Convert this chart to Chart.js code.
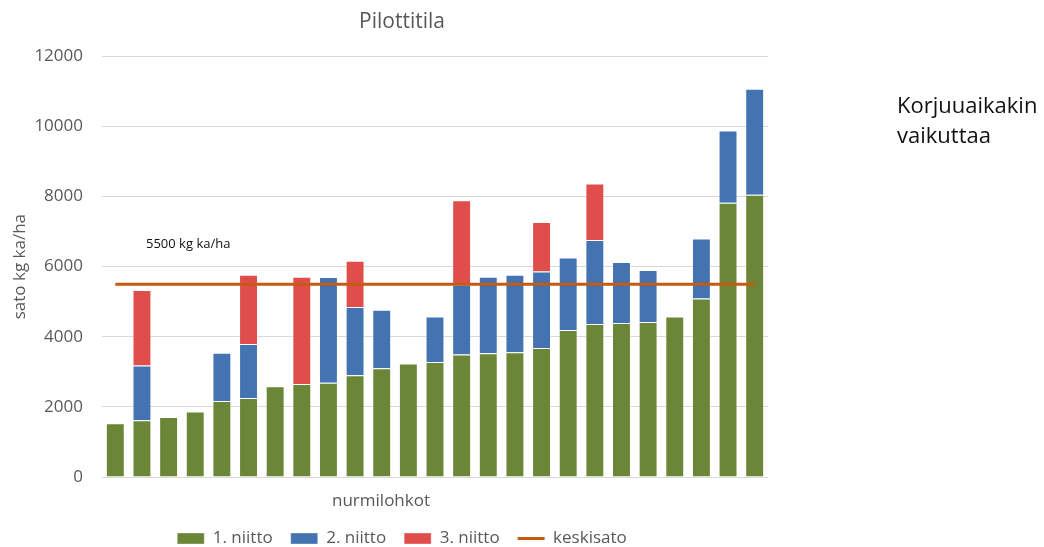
<!DOCTYPE html>
<html>
<head>
<meta charset="utf-8">
<script src="https://cdn.jsdelivr.net/npm/chart.js@4"></script>
<style>
  html, body { margin: 0; padding: 0; background: #fff; }
  #wrap { position: relative; width: 1044px; height: 547px; }
  #chart { position: absolute; left: 0; top: 0; }
  #note {
    position: absolute; left: 897px; top: 89px;
    font-family: "Open Sans", sans-serif; font-size: 22px; line-height: 30px;
    color: #111;
  }
</style>
</head>
<body>
<div id="wrap">
  <canvas id="chart" width="1044" height="547"></canvas>
  <div id="note">Korjuuaikakin<br>vaikuttaa</div>
</div>
<script>
// Nurmilohkot (grass parcels), sorted by first-cut yield
const lohkot = ['1','2','3','4','5','6','7','8','9','10','11','12','13','14','15','16','17','18','19','20','21','22','23','24','25'];

// Yield per cut, kg dry matter / ha
const niitto1 = [1530, 1620, 1710, 1870, 2170, 2250, 2590, 2650, 2690, 2900, 3100, 3240, 3280, 3490, 3530, 3560, 3680, 4190, 4360, 4390, 4420, 4580, 5090, 7820, 8050];
const niitto2 = [null, 1560, null, null, 1370, 1540, null, null, 3010, 1950, 1670, null, 1300, 2000, 2180, 2210, 2180, 2070, 2400, 1740, 1480, null, 1710, 2060, 3020];
const niitto3 = [null, 2150, null, null, null, 1980, null, 3060, null, 1320, null, null, null, 2400, null, null, 1410, null, 1610, null, null, null, null, null, null];

// Average yield across the farm
const keskisato = [5500, 5500, 5500, 5500, 5500, 5500, 5500, 5500, 5500, 5500, 5500, 5500, 5500, 5500, 5500, 5500, 5500, 5500, 5500, 5500, 5500, 5500, 5500, 5500, 5500];

const yTicks = [0, 2000, 4000, 6000, 8000, 10000, 12000];

const FONT = '"Open Sans", sans-serif';
const GREY = '#595959';

// Free-standing texts: axis caption under the bars and the average label
const extraText = {
  id: 'extraText',
  afterDraw(chart) {
    const { ctx, chartArea, scales } = chart;
    ctx.save();
    ctx.textBaseline = 'middle';
    ctx.font = '17px ' + FONT;
    ctx.fillStyle = GREY;
    ctx.textAlign = 'center';
    ctx.fillText('nurmilohkot', chartArea.left + 279, chartArea.bottom + 24);
    ctx.font = '13px ' + FONT;
    ctx.fillStyle = '#111';
    ctx.textAlign = 'left';
    ctx.fillText('5500 kg ka/ha', chartArea.left + 44, scales.y.getPixelForValue(6650));
    ctx.restore();
  }
};

const barBorder = 'rgba(255,255,255,0.35)';

new Chart(document.getElementById('chart'), {
  data: {
    labels: lohkot,
    datasets: [
      { type: 'bar', label: '1. niitto', data: niitto1, backgroundColor: '#6b8636', borderColor: barBorder, borderWidth: 1, stack: 'sato', pointStyle: 'rect' },
      { type: 'bar', label: '2. niitto', data: niitto2, backgroundColor: '#4374b1', borderColor: barBorder, borderWidth: 1, stack: 'sato', pointStyle: 'rect' },
      { type: 'bar', label: '3. niitto', data: niitto3, backgroundColor: '#df4e4b', borderColor: barBorder, borderWidth: 1, stack: 'sato', pointStyle: 'rect' },
      { type: 'line', label: 'keskisato', data: keskisato, borderColor: '#c55a11', backgroundColor: '#c55a11', borderWidth: 3, pointRadius: 0, pointStyle: 'line', stack: 'keski', order: -1 }
    ]
  },
  options: {
    responsive: false,
    animation: false,
    layout: { padding: { left: 0, right: 240, top: 1, bottom: -10 } },
    datasets: { bar: { categoryPercentage: 1, barPercentage: 0.71 } },
    scales: {
      x: {
        stacked: true,
        grid: { display: false },
        border: { display: false },
        ticks: { display: false },
        afterFit(s) { s.height = 35; }
      },
      y: {
        stacked: true,
        min: 0, max: 12000,
        afterBuildTicks(s) { s.ticks = yTicks.map(v => ({ value: v })); },
        afterFit(s) { s.width = 102; },
        grid: { color: '#d9d9d9', lineWidth: 1, drawTicks: false },
        border: { display: false },
        ticks: { color: GREY, font: { family: FONT, size: 17 }, padding: 19, callback: v => String(v) },
        title: { display: true, text: 'sato kg ka/ha', color: GREY, font: { family: FONT, size: 17 }, padding: { top: 10, bottom: 4 } }
      },
      y2: {
        position: 'right',
        display: true,
        grid: { display: false },
        border: { display: false },
        ticks: { display: false },
        afterFit(s) { s.width = 36; }
      }
    },
    plugins: {
      title: {
        display: true, text: 'Pilottitila', color: GREY,
        font: { family: FONT, size: 21, weight: 'normal' },
        padding: { top: 8, bottom: 22 }
      },
      legend: {
        position: 'bottom',
        labels: {
          usePointStyle: true, pointStyleWidth: 27, boxHeight: 11,
          color: GREY, font: { family: FONT, size: 17 }, padding: 18,
          sort: (a, b) => a.datasetIndex - b.datasetIndex
        }
      },
      tooltip: { enabled: false }
    }
  },
  plugins: [extraText]
});
</script>
</body>
</html>
